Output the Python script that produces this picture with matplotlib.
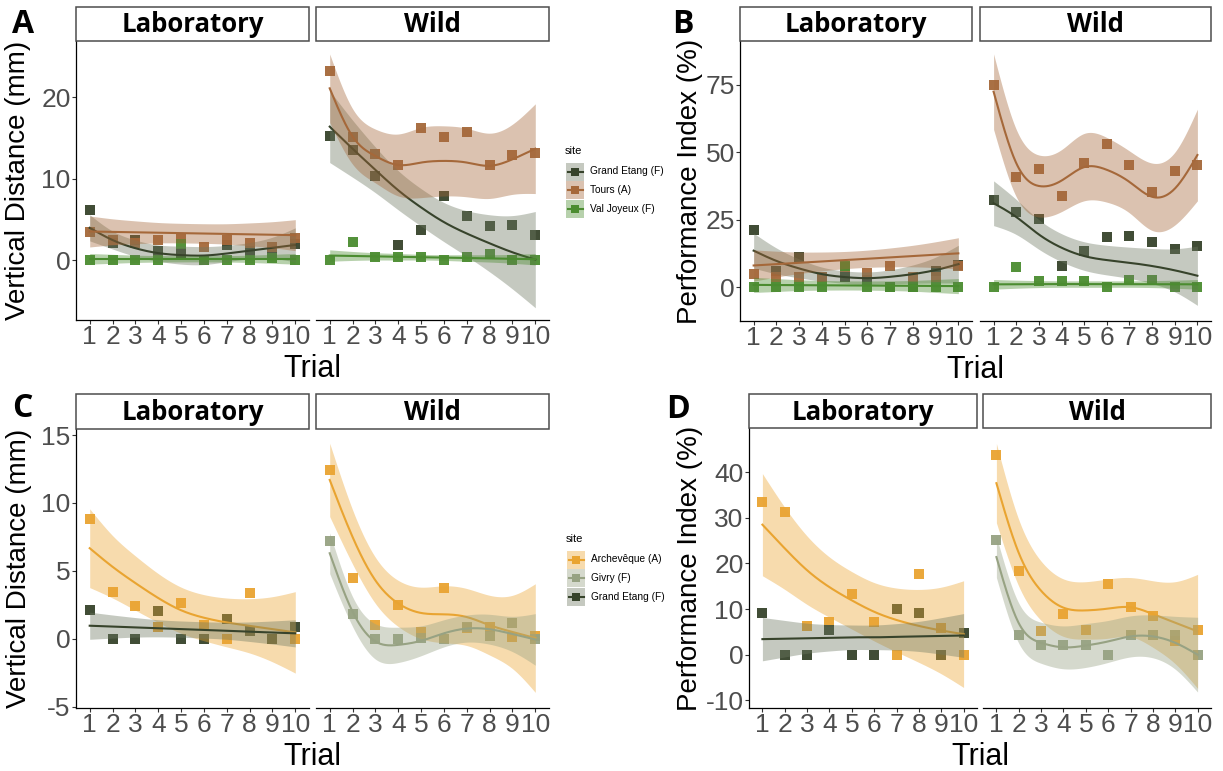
import numpy as np
import matplotlib
matplotlib.use("Agg")
import matplotlib.pyplot as plt
from matplotlib.patches import Rectangle
from matplotlib.lines import Line2D

plt.rcParams['font.family'] = ['Liberation Sans', 'DejaVu Sans']

W, H = 1223, 771
trials = np.arange(1, 11)
trial_labels = [str(t) for t in trials]

# ---------------------------------------------------------------------------
# Site colours (line / point) and ribbon fills
site_colors = {
    "Grand Etang (F)": "#37432b",
    "Tours (A)": "#a5683a",
    "Val Joyeux (F)": "#4b8c30",
    "Archevêque (A)": "#e9a431",
    "Givry (F)": "#97a283",
}
site_fills = {
    "Grand Etang (F)": "#6e7a63",
    "Tours (A)": "#a5683a",
    "Val Joyeux (F)": "#4b8c30",
    "Archevêque (A)": "#eba533",
    "Givry (F)": "#97a283",
}

# ---------------------------------------------------------------------------
# A: vertical distance (mm) -- Grand Etang / Tours / Val Joyeux
A_lab_ge = [6.2, 2.1, 2.5, 1.1, 0.9, 0.0, 1.9, 1.2, 0.9, 2.0]
A_lab_ge_fit = [4.0, 2.5, 1.5, 0.9, 0.65, 0.6, 0.85, 1.2, 1.55, 1.9]
A_lab_ge_ci = [1.6, 1.1, 1.0, 1.0, 1.1, 1.1, 1.0, 1.0, 1.3, 2.1]
A_lab_tours = [3.5, 2.45, 2.1, 2.5, 2.7, 1.7, 2.45, 2.1, 1.6, 2.7]
A_lab_tours_fit = [3.55, 3.5, 3.45, 3.4, 3.35, 3.3, 3.25, 3.2, 3.15, 3.1]
A_lab_tours_ci = [1.9, 1.6, 1.4, 1.25, 1.2, 1.2, 1.25, 1.4, 1.6, 1.9]
A_lab_vj = [0.0, 0.0, 0.0, 0.0, 2.0, 0.0, 0.0, 0.0, 0.3, 0.0]
A_lab_vj_fit = [0.2, 0.2, 0.2, 0.2, 0.2, 0.2, 0.2, 0.2, 0.2, 0.2]
A_lab_vj_ci = [0.65, 0.55, 0.45, 0.4, 0.38, 0.38, 0.4, 0.45, 0.55, 0.65]

A_wild_ge = [15.2, 13.5, 10.3, 1.9, 3.7, 7.9, 5.4, 4.2, 4.4, 3.1]
A_wild_ge_fit = [16.4, 13.7, 11.1, 8.6, 6.5, 4.7, 3.3, 2.1, 1.0, 0.1]
A_wild_ge_ci = [4.4, 3.5, 2.8, 2.4, 2.3, 2.4, 2.8, 3.5, 4.5, 5.9]
A_wild_tours = [23.2, 15.1, 13.1, 11.7, 16.2, 15.1, 15.8, 11.7, 12.9, 13.2]
A_wild_tours_fit = [21.1, 15.2, 12.8, 11.7, 12.0, 12.2, 12.0, 11.6, 12.4, 13.7]
A_wild_tours_ci = [4.2, 3.4, 3.3, 3.8, 4.3, 4.3, 4.2, 4.0, 4.3, 5.5]
A_wild_vj = [0.0, 2.3, 0.4, 0.4, 0.4, 0.0, 0.4, 0.8, 0.0, 0.0]
A_wild_vj_fit = [0.6, 0.55, 0.5, 0.45, 0.4, 0.35, 0.3, 0.25, 0.2, 0.15]
A_wild_vj_ci = [0.7, 0.55, 0.45, 0.4, 0.35, 0.35, 0.4, 0.45, 0.55, 0.7]

# B: performance index (%) -- Grand Etang / Tours / Val Joyeux
B_lab_ge = [21.2, 6.0, 11.3, 3.8, 3.7, 2.6, 0.0, 0.0, 6.0, 8.0]
B_lab_ge_fit = [13.5, 9.7, 6.9, 4.8, 3.7, 3.3, 3.8, 4.8, 6.3, 8.5]
B_lab_ge_ci = [6.5, 4.8, 3.5, 2.6, 2.3, 2.3, 2.6, 3.4, 4.8, 7.0]
B_lab_tours = [4.8, 3.8, 3.6, 3.6, 7.6, 5.3, 7.9, 3.7, 3.6, 7.7]
B_lab_tours_fit = [8.0, 8.5, 9.0, 9.5, 10.0, 10.5, 11.0, 11.5, 12.0, 12.5]
B_lab_tours_ci = [5.8, 4.8, 4.0, 3.5, 3.2, 3.2, 3.5, 4.0, 4.8, 5.8]
B_lab_vj = [0.0, 0.0, 0.0, 0.0, 7.7, 0.0, 0.0, 0.0, 0.0, 0.0]
B_lab_vj_fit = [0.8, 0.75, 0.7, 0.65, 0.6, 0.55, 0.5, 0.45, 0.4, 0.35]
B_lab_vj_ci = [2.8, 2.4, 2.0, 1.8, 1.7, 1.7, 1.8, 2.0, 2.4, 2.8]

B_wild_ge = [32.4, 27.7, 25.3, 7.7, 13.2, 18.4, 19.0, 16.6, 14.2, 15.1]
B_wild_ge_fit = [31.1, 26.0, 19.5, 14.6, 11.5, 10.0, 9.0, 7.8, 6.2, 4.2]
B_wild_ge_ci = [8.3, 6.5, 5.5, 5.2, 5.3, 5.5, 5.8, 6.5, 8.0, 11.0]
B_wild_tours = [75.0, 40.7, 43.8, 33.9, 46.2, 53.0, 45.2, 35.2, 42.9, 45.4]
B_wild_tours_fit = [72.5, 46.0, 37.5, 39.5, 44.5, 43.5, 39.0, 33.5, 36.5, 49.0]
B_wild_tours_ci = [14.0, 12.5, 11.5, 11.5, 12.5, 12.0, 11.5, 12.5, 13.5, 17.0]
B_wild_vj = [0.0, 7.3, 2.2, 2.2, 2.2, 0.0, 2.6, 2.6, 0.0, 0.0]
B_wild_vj_fit = [1.0, 1.05, 1.1, 1.1, 1.1, 1.1, 1.1, 1.1, 1.05, 1.0]
B_wild_vj_ci = [1.8, 1.5, 1.3, 1.2, 1.2, 1.2, 1.2, 1.3, 1.5, 1.8]

# C: vertical distance (mm) -- Archevêque / Givry / Grand Etang
C_lab_arch = [8.8, 3.47, 2.44, 0.89, 2.6, 1.0, 0.0, 3.35, 0.0, 0.0]
C_lab_arch_fit = [6.67, 5.3, 4.1, 3.0, 2.1, 1.55, 1.2, 0.95, 0.7, 0.47]
C_lab_arch_ci = [2.9, 2.3, 2.0, 1.8, 1.7, 1.7, 1.8, 2.0, 2.4, 3.0]
C_lab_ge = [2.1, 0.0, 0.0, 2.05, 0.0, 0.0, 1.45, 0.6, 0.0, 0.83]
C_lab_ge_fit = [0.96, 0.9, 0.84, 0.77, 0.71, 0.65, 0.59, 0.52, 0.46, 0.4]
C_lab_ge_ci = [1.0, 0.85, 0.72, 0.63, 0.6, 0.6, 0.63, 0.72, 0.85, 1.0]

C_wild_arch = [12.4, 4.46, 1.0, 2.5, 0.49, 3.75, 0.8, 0.83, 0.1, 0.2]
C_wild_arch_fit = [11.7, 7.5, 4.3, 2.6, 1.9, 1.8, 1.6, 1.0, 0.5, 0.05]
C_wild_arch_ci = [2.7, 2.0, 1.7, 1.7, 1.9, 2.1, 2.1, 2.2, 2.7, 4.0]
C_wild_givry = [7.2, 1.8, 0.0, 0.0, 0.05, 0.0, 0.83, 0.2, 1.15, 0.0]
C_wild_givry_fit = [6.3, 2.0, -0.2, -0.45, -0.15, 0.4, 0.75, 0.7, 0.35, -0.05]
C_wild_givry_ci = [1.5, 1.1, 1.3, 1.3, 1.1, 1.0, 1.0, 1.1, 1.3, 1.9]

# D: performance index (%) -- Archevêque / Givry / Grand Etang
D_lab_arch = [33.4, 31.2, 6.2, 7.2, 13.4, 7.2, 0.0, 17.7, 5.85, 0.0]
D_lab_arch_fit = [28.5, 23.3, 18.5, 14.8, 11.9, 9.4, 7.6, 6.3, 5.3, 4.5]
D_lab_arch_ci = [11.2, 9.0, 7.5, 6.6, 6.3, 6.4, 7.0, 8.0, 9.5, 11.7]
D_lab_ge = [9.1, 0.0, 0.0, 5.3, 0.0, 0.0, 10.0, 9.1, 0.0, 4.75]
D_lab_ge_fit = [3.4, 3.5, 3.6, 3.7, 3.8, 3.8, 3.9, 4.0, 4.1, 4.2]
D_lab_ge_ci = [4.75, 4.0, 3.3, 2.9, 2.7, 2.7, 2.9, 3.3, 4.0, 4.8]

D_wild_arch = [43.7, 18.4, 5.1, 8.9, 5.5, 15.4, 10.45, 8.4, 2.9, 5.3]
D_wild_arch_fit = [37.6, 22.3, 14.0, 10.3, 9.7, 10.1, 10.4, 8.9, 7.0, 5.1]
D_wild_arch_ci = [8.7, 7.3, 6.5, 6.3, 6.3, 6.5, 6.5, 7.3, 9.0, 12.5]
D_wild_givry = [25.1, 4.3, 2.2, 2.1, 2.1, 0.0, 4.2, 4.4, 4.4, 0.0]
D_wild_givry_fit = [21.4, 6.9, 2.6, 1.6, 2.0, 2.9, 4.0, 4.0, 2.6, 0.0]
D_wild_givry_ci = [4.5, 4.4, 4.5, 4.7, 4.8, 4.6, 4.5, 4.7, 5.8, 8.2]

legend_AB = ["Grand Etang (F)", "Tours (A)", "Val Joyeux (F)"]
legend_CD = ["Archevêque (A)", "Givry (F)", "Grand Etang (F)"]


def spline(y, n=240):
    """Natural cubic spline through the per-trial values."""
    x = trials.astype(float)
    y = np.asarray(y, float)
    m = len(x)
    h = np.diff(x)
    A = np.zeros((m, m))
    r = np.zeros(m)
    A[0, 0] = A[-1, -1] = 1.0
    for i in range(1, m - 1):
        A[i, i - 1] = h[i - 1]
        A[i, i] = 2 * (h[i - 1] + h[i])
        A[i, i + 1] = h[i]
        r[i] = 3 * ((y[i + 1] - y[i]) / h[i] - (y[i] - y[i - 1]) / h[i - 1])
    c = np.linalg.solve(A, r)
    b = (y[1:] - y[:-1]) / h - h * (2 * c[:-1] + c[1:]) / 3
    d = (c[1:] - c[:-1]) / (3 * h)
    xs = np.linspace(x[0], x[-1], n)
    k = np.clip(np.searchsorted(x, xs, side="right") - 1, 0, m - 2)
    dx = xs - x[k]
    return xs, y[k] + b[k] * dx + c[k] * dx ** 2 + d[k] * dx ** 3


fig = plt.figure(figsize=(W / 100, H / 100), dpi=100)


def px_axes(x0, y0, x1, y1):
    return fig.add_axes([x0 / W, 1 - y1 / H, (x1 - x0) / W, (y1 - y0) / H])


def draw_facet(box, series, ylim, yticks, show_y):
    ax = px_axes(*box)
    for name, pts, fit, ci in series:
        ax.scatter(trials, pts, marker="s", s=42, color=site_colors[name],
                   alpha=0.95, linewidths=0, zorder=2)
    for name, pts, fit, ci in series:
        xs, ys = spline(fit)
        _, cs = spline(ci)
        ax.fill_between(xs, ys - cs, ys + cs, color=site_fills[name],
                        alpha=0.4, lw=0, zorder=3)
        ax.plot(xs, ys, color=site_colors[name], lw=1.5, zorder=3)
    ax.set_xlim(0.4, 10.6)
    ax.set_ylim(*ylim)
    ax.set_xticks(trials)
    ax.set_xticklabels(trial_labels)
    ax.set_yticks(yticks)
    ax.set_yticklabels([str(v) for v in yticks])
    for s in ("top", "right"):
        ax.spines[s].set_visible(False)
    for s in ("left", "bottom"):
        ax.spines[s].set_color("black")
        ax.spines[s].set_linewidth(0.9)
    ax.tick_params(labelsize=19, labelcolor="#4d4d4d", color="#333333",
                   length=2.8, width=0.8, pad=1)
    if not show_y:
        ax.spines["left"].set_visible(False)
        ax.tick_params(axis="y", left=False, labelleft=False)
    ax.patch.set_alpha(0)
    return ax


panels = [
    dict(letter="A", ylabel="Vertical Distance (mm)", ylim=(-7.3, 26.9), yticks=[0, 10, 20],
         lab_box=(76, 41, 309, 320), wild_box=(316, 41, 549, 320), strip=(7, 41),
         lab=[("Grand Etang (F)", A_lab_ge, A_lab_ge_fit, A_lab_ge_ci),
              ("Tours (A)", A_lab_tours, A_lab_tours_fit, A_lab_tours_ci),
              ("Val Joyeux (F)", A_lab_vj, A_lab_vj_fit, A_lab_vj_ci)],
         wild=[("Grand Etang (F)", A_wild_ge, A_wild_ge_fit, A_wild_ge_ci),
               ("Tours (A)", A_wild_tours, A_wild_tours_fit, A_wild_tours_ci),
               ("Val Joyeux (F)", A_wild_vj, A_wild_vj_fit, A_wild_vj_ci)],
         letter_xy=(12, 33), ylab_x=25, trial_y=377),
    dict(letter="B", ylabel="Performance Index (%)", ylim=(-12.6, 91.3), yticks=[0, 25, 50, 75],
         lab_box=(740, 41, 972, 321), wild_box=(980, 41, 1211, 321), strip=(7, 41),
         lab=[("Grand Etang (F)", B_lab_ge, B_lab_ge_fit, B_lab_ge_ci),
              ("Tours (A)", B_lab_tours, B_lab_tours_fit, B_lab_tours_ci),
              ("Val Joyeux (F)", B_lab_vj, B_lab_vj_fit, B_lab_vj_ci)],
         wild=[("Grand Etang (F)", B_wild_ge, B_wild_ge_fit, B_wild_ge_ci),
               ("Tours (A)", B_wild_tours, B_wild_tours_fit, B_wild_tours_ci),
               ("Val Joyeux (F)", B_wild_vj, B_wild_vj_fit, B_wild_vj_ci)],
         letter_xy=(672, 33), ylab_x=697, trial_y=378),
    dict(letter="C", ylabel="Vertical Distance (mm)", ylim=(-5.1, 15.45), yticks=[-5, 0, 5, 10, 15],
         lab_box=(76, 429, 309, 708), wild_box=(316, 429, 549, 708), strip=(394, 429),
         lab=[("Archevêque (A)", C_lab_arch, C_lab_arch_fit, C_lab_arch_ci),
              ("Grand Etang (F)", C_lab_ge, C_lab_ge_fit, C_lab_ge_ci)],
         wild=[("Archevêque (A)", C_wild_arch, C_wild_arch_fit, C_wild_arch_ci),
               ("Givry (F)", C_wild_givry, C_wild_givry_fit, C_wild_givry_ci)],
         letter_xy=(12, 417), ylab_x=26, trial_y=765),
    dict(letter="D", ylabel="Performance Index (%)", ylim=(-11.7, 49.7), yticks=[-10, 0, 10, 20, 30, 40],
         lab_box=(749, 428, 977, 708), wild_box=(983, 428, 1211, 708), strip=(394, 428),
         lab=[("Archevêque (A)", D_lab_arch, D_lab_arch_fit, D_lab_arch_ci),
              ("Grand Etang (F)", D_lab_ge, D_lab_ge_fit, D_lab_ge_ci)],
         wild=[("Archevêque (A)", D_wild_arch, D_wild_arch_fit, D_wild_arch_ci),
               ("Givry (F)", D_wild_givry, D_wild_givry_fit, D_wild_givry_ci)],
         letter_xy=(666, 418), ylab_x=697, trial_y=765),
]

for p in panels:
    draw_facet(p["lab_box"], p["lab"], p["ylim"], p["yticks"], True)
    draw_facet(p["wild_box"], p["wild"], p["ylim"], p["yticks"], False)

# Overlay in pixel coordinates for strips, titles, letters and legends
ov = fig.add_axes([0, 0, 1, 1], zorder=10)
ov.set_xlim(0, W)
ov.set_ylim(H, 0)
ov.axis("off")

for p in panels:
    s0, s1 = p["strip"]
    for box, label in ((p["lab_box"], "Laboratory"), (p["wild_box"], "Wild")):
        x0, _, x1, _ = box
        ov.add_patch(Rectangle((x0, s0), x1 - x0, s1 - s0, facecolor="white",
                               edgecolor="#4d4d4d", lw=1.1))
        ov.text((x0 + x1) / 2, (s0 + s1) / 2 + 1, label, ha="center", va="center",
                fontsize=18.5, fontweight="bold", family="Open Sans")
    lx, ly = p["letter_xy"]
    ov.text(lx, ly, p["letter"], ha="left", va="baseline", fontsize=23,
            fontweight="bold", family="Open Sans")
    y0 = p["lab_box"][1]
    y1 = p["lab_box"][3]
    ov.text(p["ylab_x"], (y0 + y1) / 2, p["ylabel"], rotation=90, rotation_mode="anchor",
            ha="center", va="baseline", fontsize=20)
    xc = (p["lab_box"][0] + p["wild_box"][2]) / 2
    ov.text(xc, p["trial_y"], "Trial", ha="center", va="baseline", fontsize=22)


def draw_legend(x0, title_y, key_y0, names):
    ov.text(x0 - 1, title_y, "site", ha="left", va="center", fontsize=8)
    for i, name in enumerate(names):
        yc = key_y0 + i * 18.7
        ov.add_patch(Rectangle((x0, yc - 9), 18, 18, facecolor=site_fills[name],
                               alpha=0.4, lw=0))
        ov.add_line(Line2D([x0 + 1.5, x0 + 16.5], [yc, yc], color=site_colors[name], lw=1.5))
        ov.plot([x0 + 9], [yc], marker="s", ms=5.5, color=site_colors[name], mew=0)
        ov.text(x0 + 24, yc, name, ha="left", va="center", fontsize=7.3)


draw_legend(566, 151, 171.5, legend_AB)
draw_legend(567, 539, 559.5, legend_CD)

fig.savefig("out.png", dpi=100)
